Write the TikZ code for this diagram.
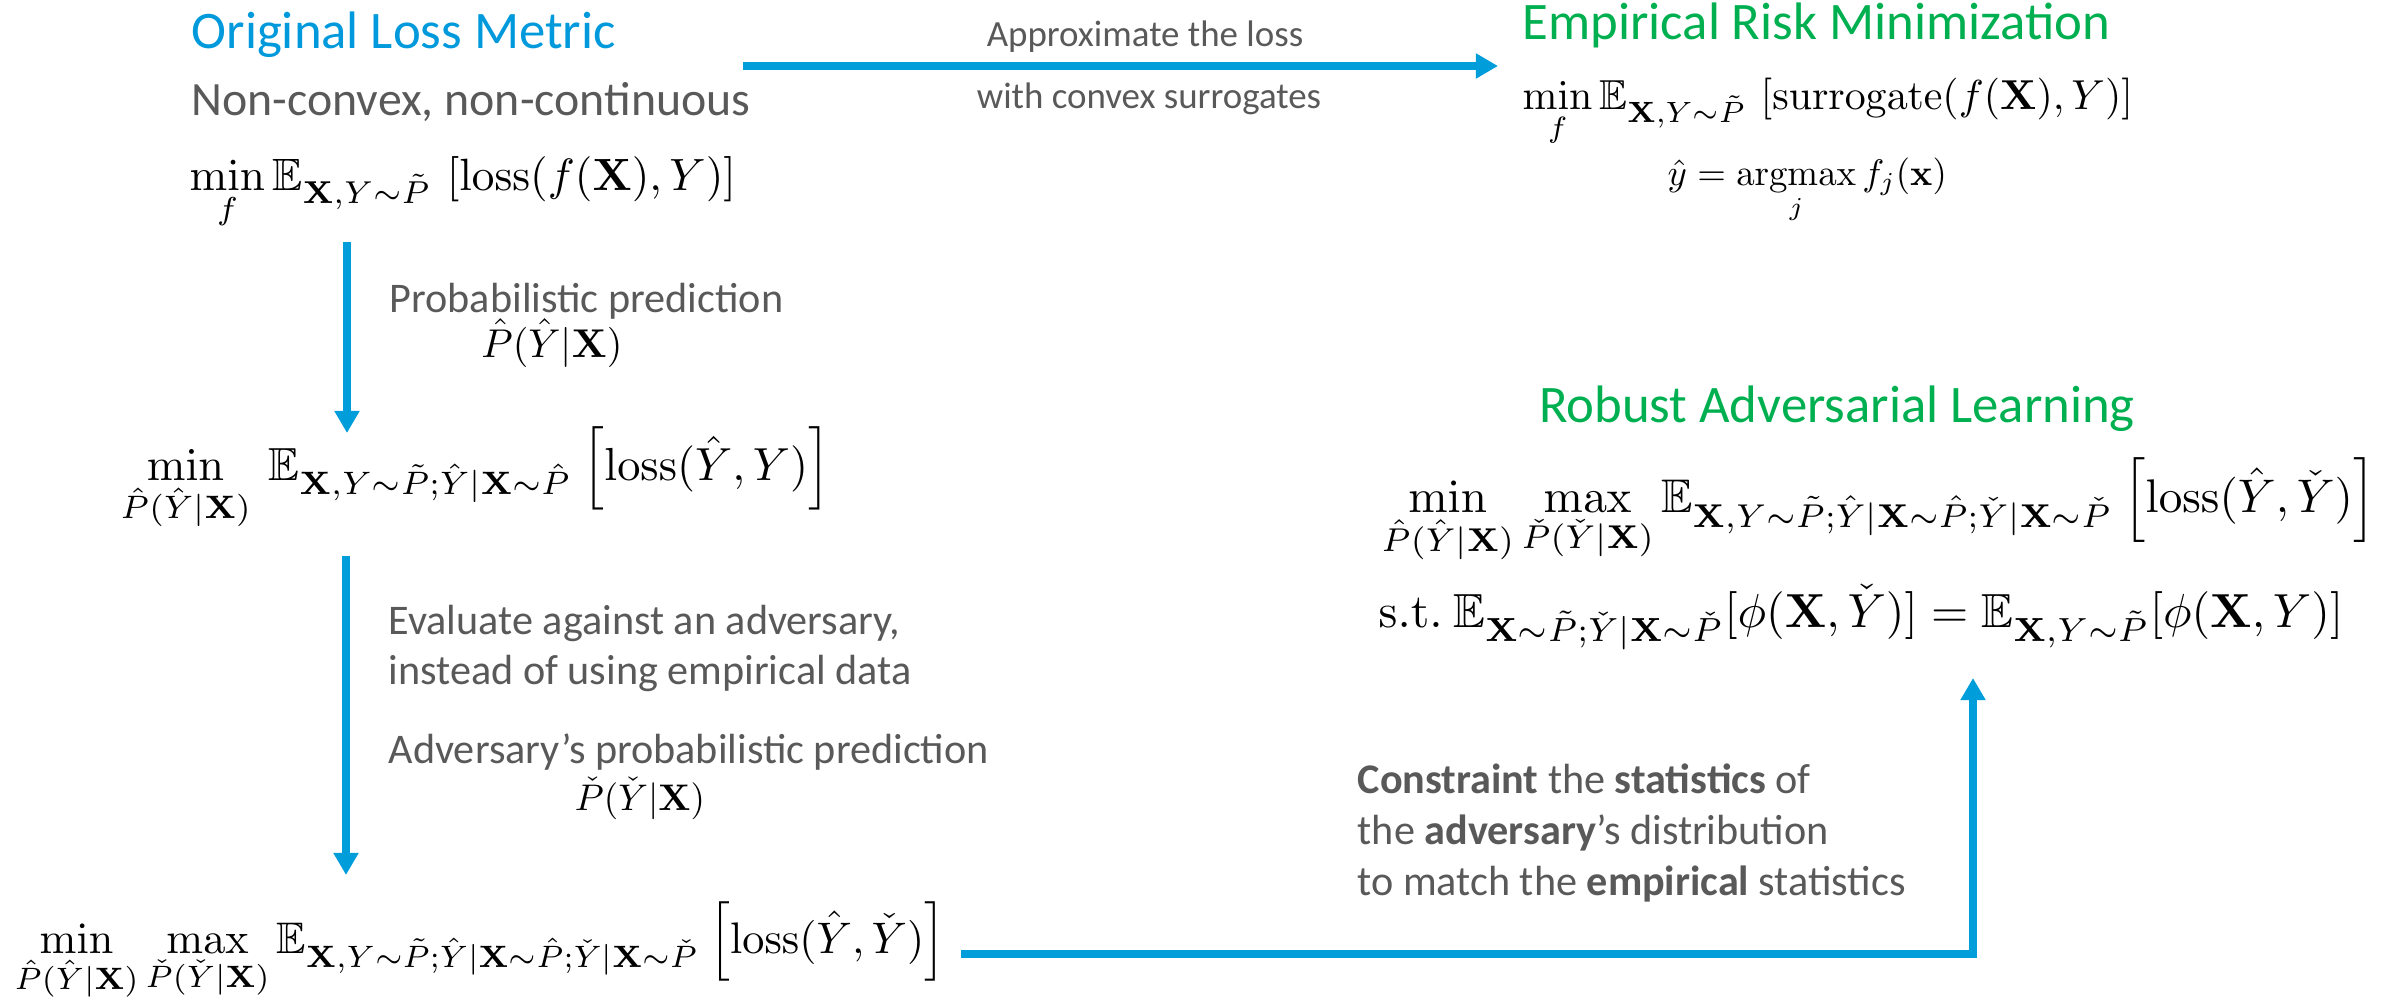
\documentclass[tikz,border=0pt]{standalone}
\usepackage{amsmath,amssymb}
\usepackage{graphicx}
\usepackage[no-math]{fontspec}
\setmainfont{Carlito}
\usetikzlibrary{arrows.meta}
\definecolor{myblue}{RGB}{0,157,219}
\definecolor{titleblue}{RGB}{0,153,219}
\definecolor{mygreen}{RGB}{0,176,80}
\definecolor{txtgray}{RGB}{89,89,89}
\newcommand{\fitmath}[2]{\resizebox{#1}{!}{$\displaystyle #2$}}
\tikzset{
  ttl/.style={font=\fontsize{15}{18}\selectfont, inner sep=0pt},
  lbl/.style={font=\fontsize{12}{14}\selectfont, text=txtgray, inner sep=0pt},
  mth/.style={inner sep=0pt},
  flow/.style={draw=myblue, line width=2.3pt, line join=miter, -{Triangle[width=6.8pt,length=6.3pt]}},
}
\begin{document}
\begin{tikzpicture}[x=0.01cm,y=-0.01cm]
\useasboundingbox (0,0) rectangle (2408,1000);
% top-left block
\node[ttl, text=titleblue, anchor=base west] (olm) at (191,48) {Original Loss Metric};
\node[lbl, font=\fontsize{13.6}{16}\selectfont, anchor=base west] (ncv) at (191,115) {Non-convex, non-continuous};
\node[mth, anchor=base west] (f1) at (189,190) {\fitmath{5.46cm}{\min_f \mathbb{E}_{\mathbf{X},Y\sim\tilde{P}}\,\left[\mathrm{loss}(f(\mathbf{X}),Y)\right]}};
% top arrow
\coordinate (t0) at (743,66);
\coordinate (t1) at (1498,66);
\draw[flow] (t0) -- (t1);
\node[lbl, font=\fontsize{10.5}{12}\selectfont, anchor=base] (ap1) at (1145,46) {Approximate the loss};
\node[lbl, font=\fontsize{10.5}{12}\selectfont, anchor=base] (ap2) at (1149,108) {with convex surrogates};
% ERM
\node[ttl, text=mygreen, anchor=base west] (erm) at (1522,40) {Empirical Risk Minimization};
\node[mth, anchor=base west] (f2) at (1522,110) {\fitmath{6.10cm}{\min_f \mathbb{E}_{\mathbf{X},Y\sim\tilde{P}}\,\left[\mathrm{surrogate}(f(\mathbf{X}),Y)\right]}};
\node[mth, anchor=base west] (f3) at (1667,185) {\fitmath{2.79cm}{\hat{y}=\operatorname*{argmax}_j f_j(\mathbf{x})}};
% first down arrow
\coordinate (d1a) at (347,242);
\coordinate (d1b) at (347,433);
\draw[flow] (d1a) -- (d1b);
\node[lbl, anchor=base west] (pp) at (389,312) {Probabilistic prediction};
\node[mth, anchor=base] (pp2) at (552,357) {\fitmath{1.41cm}{\hat{P}(\hat{Y}|\mathbf{X})}};
% second formula
\node[mth, anchor=base west] (f4) at (120,480) {\fitmath{7.09cm}{\min_{\hat{P}(\hat{Y}|\mathbf{X})}\ \mathbb{E}_{\mathbf{X},Y\sim\tilde{P};\hat{Y}|\mathbf{X}\sim\hat{P}}\ \Big[\mathrm{loss}(\hat{Y},Y)\Big]}};
% second down arrow
\coordinate (d2a) at (346,556);
\coordinate (d2b) at (346,875);
\draw[flow] (d2a) -- (d2b);
\node[lbl, anchor=base west] (ev1) at (388,634) {Evaluate against an adversary,};
\node[lbl, anchor=base west] (ev2) at (388,684) {instead of using empirical data};
\node[lbl, anchor=base west] (adv) at (388,763) {Adversary’s probabilistic prediction};
\node[mth, anchor=base] (adv2) at (640,810) {\fitmath{1.30cm}{\check{P}(\check{Y}|\mathbf{X})}};
% bottom formula
\node[mth, anchor=base west] (f5) at (14,953) {\fitmath{9.30cm}{\min_{\hat{P}(\hat{Y}|\mathbf{X})}\max_{\check{P}(\check{Y}|\mathbf{X})}\mathbb{E}_{\mathbf{X},Y\sim\tilde{P};\hat{Y}|\mathbf{X}\sim\hat{P};\check{Y}|\mathbf{X}\sim\check{P}}\ \Big[\mathrm{loss}(\hat{Y},\check{Y})\Big]}};
% bottom connector
\coordinate (b0) at (961,954);
\coordinate (b1) at (1973,954);
\coordinate (b2) at (1973,678);
\draw[flow] (b0) -- (b1) -- (b2);
\node[lbl, anchor=base west] (c1) at (1357,793) {\textbf{Constraint} the \textbf{statistics} of};
\node[lbl, anchor=base west] (c2) at (1357,844) {the \textbf{adversary}’s distribution};
\node[lbl, anchor=base west] (c3) at (1357,895) {to match the \textbf{empirical} statistics};
% robust block
\node[ttl, text=mygreen, anchor=base] (ral) at (1837,422) {Robust Adversarial Learning};
\node[mth, anchor=base west] (f6) at (1381,512) {\fitmath{9.93cm}{\min_{\hat{P}(\hat{Y}|\mathbf{X})}\max_{\check{P}(\check{Y}|\mathbf{X})}\mathbb{E}_{\mathbf{X},Y\sim\tilde{P};\hat{Y}|\mathbf{X}\sim\hat{P};\check{Y}|\mathbf{X}\sim\check{P}}\ \Big[\mathrm{loss}(\hat{Y},\check{Y})\Big]}};
\node[mth, anchor=base west] (f7) at (1378,627) {\fitmath{9.64cm}{\mathrm{s.t.}\ \mathbb{E}_{\mathbf{X}\sim\tilde{P};\check{Y}|\mathbf{X}\sim\check{P}}[\phi(\mathbf{X},\check{Y})]=\mathbb{E}_{\mathbf{X},Y\sim\tilde{P}}[\phi(\mathbf{X},Y)]}};
\end{tikzpicture}
\end{document}
